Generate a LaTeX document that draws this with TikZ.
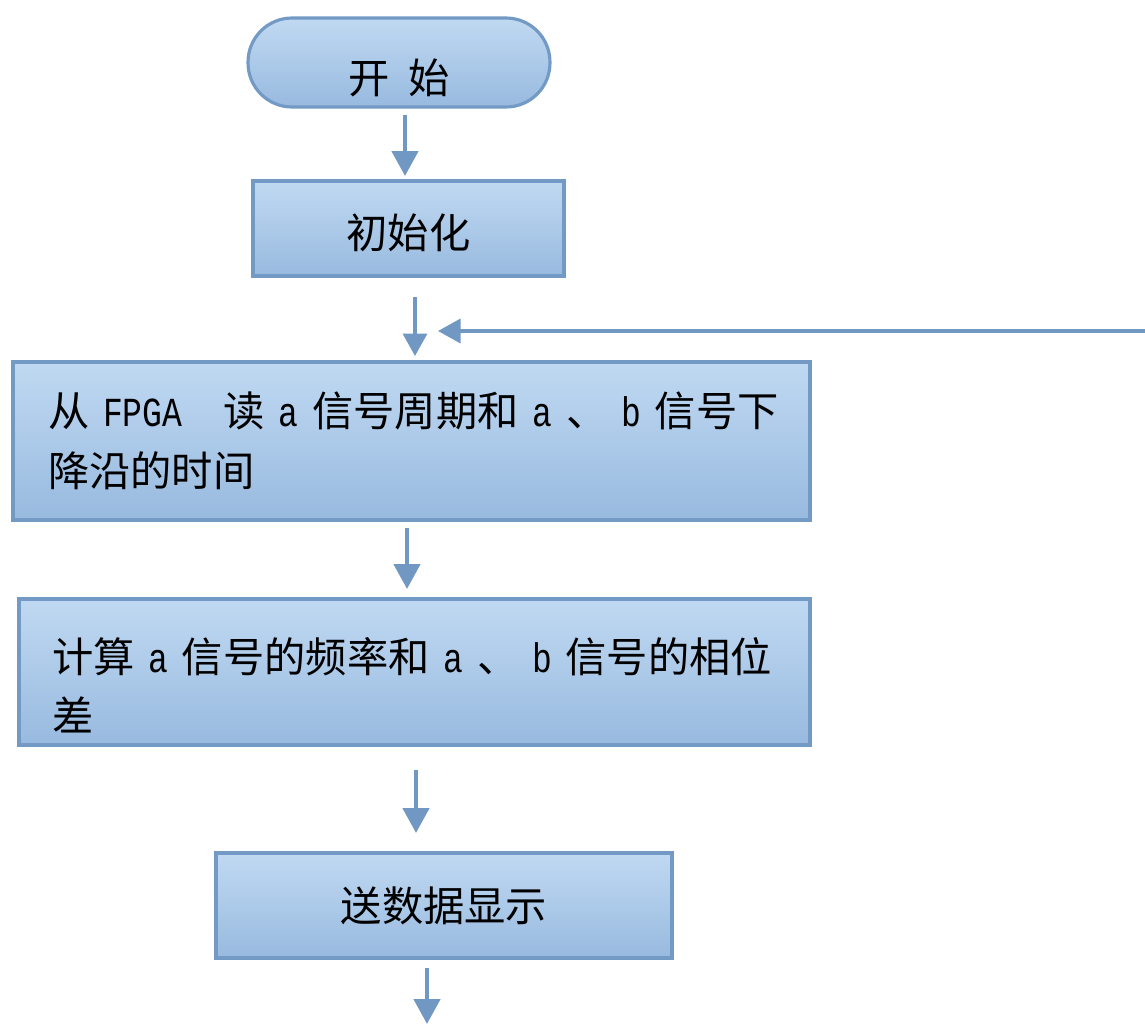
\documentclass[tikz,border=0pt]{standalone}
\usepackage{fontspec}
\newfontfamily\cjk{Noto Sans CJK SC}
\newfontfamily\lat[FakeStretch=0.8]{Liberation Mono}
\usetikzlibrary{arrows.meta}
\definecolor{boxtop}{RGB}{192,217,242}
\definecolor{boxbot}{RGB}{152,186,223}
\definecolor{boxline}{RGB}{114,154,196}
\definecolor{arrowc}{RGB}{112,152,194}
\newcommand{\lt}[1]{{\lat #1}}
\begin{document}
\begin{tikzpicture}[x=0.02cm,y=-0.02cm,
  box/.style={draw=boxline, line width=1.8pt, top color=boxtop, bottom color=boxbot,
    inner sep=0pt, font=\cjk\fontsize{23.5}{34}\selectfont},
  flow/.style={draw=arrowc, line width=2.6pt, -{Triangle[width=0.52cm,length=0.5cm]}},
  thinflow/.style={draw=arrowc, line width=2pt, -{Triangle[width=0.48cm,length=0.45cm]}},
]
\useasboundingbox (0,0) rectangle (1145,1025);

\node[box, rounded corners=0.88cm, minimum width=6.04cm, minimum height=1.78cm] (start) at (399,62.5)
  {\rule{0pt}{37pt}开\hspace{0.45em}始};
\node[box, minimum width=6.22cm, minimum height=1.9cm] (init) at (408.5,228.5) {\rule{0pt}{25pt}初始化};
\node[box, minimum width=15.94cm, minimum height=3.16cm, text width=14.54cm, align=left] (read) at (411.5,441)
  {\mbox{从 \lt{FPGA}\quad 读 \lt{a} 信号周期和 \lt{a} 、 \lt{b} 信号下}\\降沿的时间};
\node[box, minimum width=15.82cm, minimum height=2.92cm, text width=14.5cm, align=left] (calc) at (414.5,672)
  {\mbox{\rule{0pt}{35pt}计算 \lt{a} 信号的频率和 \lt{a} 、 \lt{b} 信号的相位}\\差};
\node[box, minimum width=9.12cm, minimum height=2.1cm] (show) at (444,905.5) {送数据显示};

\coordinate (a1s) at (405,115);  \coordinate (a1e) at (405,176);
\coordinate (a2s) at (415,297);  \coordinate (a2e) at (415,356);
\coordinate (fbs) at (1145,331); \coordinate (fbe) at (438,331);
\coordinate (a3s) at (407,528);  \coordinate (a3e) at (407,589);
\coordinate (a4s) at (416,770);  \coordinate (a4e) at (416,833);
\coordinate (a5s) at (427,968);  \coordinate (a5e) at (427,1024);

\draw[flow] (a1s) -- (a1e);
\draw[thinflow] (a2s) -- (a2e);
\draw[thinflow] (fbs) -- (fbe);
\draw[flow] (a3s) -- (a3e);
\draw[flow] (a4s) -- (a4e);
\draw[flow] (a5s) -- (a5e);
\end{tikzpicture}
\end{document}
